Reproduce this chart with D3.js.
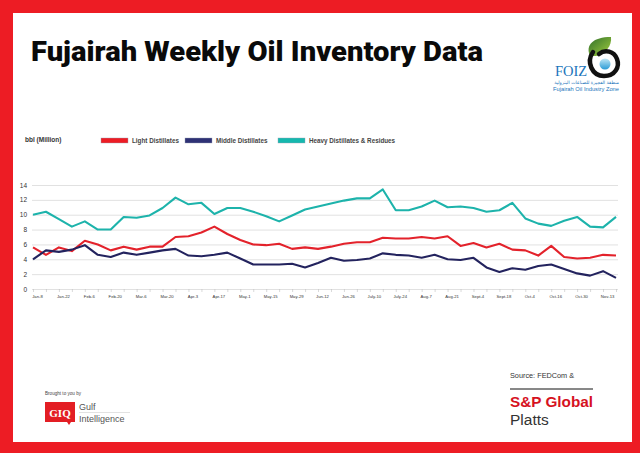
<!DOCTYPE html>
<html>
<head>
<meta charset="utf-8">
<script src="https://cdnjs.cloudflare.com/ajax/libs/d3/7.8.5/d3.min.js"></script>
<style>
  body { margin: 0; background: #ED1C24; }
  svg { display: block; }
  .grid line { stroke: #d9d9d9; stroke-width: 0.8px; }
  .grid text { font-family: "Liberation Sans", Arial, sans-serif; font-size: 6.5px; fill: #333; }
  .xaxis line { stroke: #bfbfbf; stroke-width: 0.6px; }
  .xaxis text { font-family: "Liberation Sans", Arial, sans-serif; font-size: 4.2px; fill: #333; }
</style>
</head>
<body>
<div class="chart"></div>
<script>
// weekly readings, million bbl
const lightDistillates = [5.6, 4.6, 5.6, 5.1, 6.5, 6.0, 5.2, 5.7, 5.3, 5.7,
  5.7, 7.0, 7.1, 7.6, 8.4, 7.4, 6.6, 6.0, 5.9, 6.1,
  5.4, 5.6, 5.4, 5.7, 6.1, 6.3, 6.3, 6.9, 6.8, 6.8,
  7.0, 6.8, 7.1, 5.8, 6.2, 5.6, 6.1, 5.3, 5.2, 4.5,
  5.8, 4.3, 4.1, 4.2, 4.6, 4.5];
const middleDistillates = [4.0, 5.2, 5.0, 5.3, 5.9, 4.6, 4.3, 4.9, 4.6, 4.9,
  5.2, 5.4, 4.5, 4.4, 4.6, 4.9, 4.1, 3.3, 3.3, 3.3,
  3.4, 2.9, 3.5, 4.2, 3.8, 3.9, 4.1, 4.8, 4.6, 4.5,
  4.2, 4.6, 4.0, 3.9, 4.2, 2.9, 2.3, 2.8, 2.6, 3.1,
  3.3, 2.7, 2.1, 1.8, 2.4, 1.5];
const heavyDistillates = [10.0, 10.4, 9.4, 8.4, 9.1, 8.0, 8.0, 9.7, 9.6, 9.9,
  10.9, 12.3, 11.4, 11.6, 10.1, 10.9, 10.9, 10.4, 9.8, 9.1,
  9.9, 10.7, 11.1, 11.5, 11.9, 12.2, 12.2, 13.4, 10.6, 10.6,
  11.1, 11.9, 11.0, 11.1, 10.9, 10.4, 10.6, 11.6, 9.5, 8.8,
  8.5, 9.2, 9.7, 8.4, 8.3, 9.7];

// one label every second week
const xLabels = ["Jan-8", "Jan-22", "Feb-6", "Feb-20", "Mar-6", "Mar-20", "Apr-3", "Apr-17",
  "May-1", "May-15", "May-29", "Jun-12", "Jun-26", "July-10", "July-24", "Aug-7",
  "Aug-21", "Sept-4", "Sept-18", "Oct-4", "Oct-16", "Oct-30", "Nov-13"];
const yTicks = [0, 2, 4, 6, 8, 10, 12, 14];

const seriesNames = ["Light Distillates", "Middle Distillates", "Heavy Distillates & Residues"];
const seriesColors = ["#E3222B", "#23235E", "#1DB3AB"];
const swatchColors = ["#ED1C24", "#2E3175", "#15B8AE"];

const weeks = d3.range(lightDistillates.length);

const svg = d3.select(".chart")
  .append("svg")
    .attr("width", 640)
    .attr("height", 453);

// white panel inside red frame
svg.append("rect")
  .attr("x", 13).attr("y", 13)
  .attr("width", 619).attr("height", 429)
  .style("fill", "#FFFFFF");

// title
svg.append("text")
  .attr("x", 31).attr("y", 61)
  .attr("textLength", 452)
  .attr("lengthAdjust", "spacingAndGlyphs")
  .style("font-family", "Roboto, 'Liberation Sans', sans-serif")
  .style("font-size", "27px")
  .style("font-weight", "900")
  .style("fill", "#0a0a0a")
  .text("Fujairah Weekly Oil Inventory Data");

//FOIZ logo
const logo = svg.append("g");
const leaf = svg.append("defs").append("linearGradient")
  .attr("id", "leaf").attr("x1", "0%").attr("y1", "0%").attr("x2", "100%").attr("y2", "100%");
leaf.append("stop").attr("offset", "0%").style("stop-color", "#2F6E2A");
leaf.append("stop").attr("offset", "100%").style("stop-color", "#A3CF3E");
const drop = svg.select("defs").append("linearGradient")
  .attr("id", "drop").attr("x1", "0%").attr("y1", "0%").attr("x2", "0%").attr("y2", "100%");
drop.append("stop").attr("offset", "0%").style("stop-color", "#BFE6F5");
drop.append("stop").attr("offset", "100%").style("stop-color", "#2A9BD6");
// green leaf
logo.append("path")
  .attr("d", "M590,56 C585,45 593,37 611,37 C612,46 606,53 596,56 Z")
  .style("fill", "url(#leaf)");
// black swirl
logo.append("path")
  .attr("d", "M593,52 C586,62 592,76 604,76 C615,76 620,67 617,59 C614,51 605,49 599,54")
  .style("fill", "none").style("stroke", "#111").style("stroke-width", 4.5)
  .style("stroke-linecap", "round");
logo.append("circle")
  .attr("cx", 605).attr("cy", 64).attr("r", 5.5)
  .style("fill", "url(#drop)");
logo.append("text")
  .attr("x", 555).attr("y", 76)
  .style("font-family", "'Liberation Serif', serif")
  .style("font-size", "14.5px")
  .style("fill", "#1B75BB")
  .text("FOIZ");
logo.append("text")
  .attr("x", 619).attr("y", 84)
  .attr("text-anchor", "end")
  .style("font-family", "'DejaVu Sans', sans-serif")
  .style("font-size", "4.6px")
  .style("fill", "#1B75BB")
  .text("منطقة الفجيرة للصناعات البترولية");
logo.append("text")
  .attr("x", 553).attr("y", 91)
  .attr("textLength", 66)
  .attr("lengthAdjust", "spacingAndGlyphs")
  .style("font-family", "'Liberation Sans', sans-serif")
  .style("font-size", "5.5px")
  .style("fill", "#1B75BB")
  .text("Fujairah Oil Industry Zone");

// unit label
svg.append("text")
  .attr("x", 25).attr("y", 142)
  .style("font-family", "'Liberation Sans', sans-serif")
  .style("font-size", "6.5px")
  .style("font-weight", "700")
  .style("fill", "#333")
  .text("bbl (Million)");

// legend
const legendX = [101, 185, 278];
const legend = svg.selectAll(".legend")
  .data(seriesNames)
  .enter().append("g")
  .attr("class", "legend")
  .attr("transform", (d, i) => `translate(${legendX[i]}, 138)`);
legend.append("rect")
  .attr("width", 27).attr("height", 5)
  .style("fill", (d, i) => swatchColors[i])
  .style("stroke", "#9aa0b5")
  .style("stroke-width", 0.4);
legend.append("text")
  .attr("x", 31).attr("y", 5)
  .style("font-family", "'Liberation Sans', sans-serif")
  .style("font-size", "6.3px")
  .style("font-weight", "700")
  .style("fill", "#444")
  .text(d => d);

// scales
const xScale = d3.scalePoint()
  .domain(weeks)
  .range([33, 616]);
const yScale = d3.scaleLinear()
  .domain([0, 14])
  .range([289, 185]);

// gridlines + y labels
const yAxis = svg.append("g")
  .attr("class", "grid")
  .attr("transform", "translate(32,0)")
  .call(d3.axisLeft(yScale).tickValues(yTicks).tickSize(-586).tickPadding(5));
yAxis.select(".domain").remove();

// x axis ticks and labels
const xAxis = svg.append("g")
  .attr("class", "xaxis")
  .attr("transform", "translate(0,289)")
  .call(d3.axisBottom(xScale)
    .tickSize(3)
    .tickPadding(3)
    .tickFormat(i => i % 2 === 0 ? xLabels[i / 2] : ""));
xAxis.select(".domain").remove();
xAxis.selectAll(".tick text").attr("dx", "4px");

// lines
const line = d3.line()
  .x((d, i) => xScale(weeks[i]))
  .y(d => yScale(d));

svg.selectAll(".series")
  .data([lightDistillates, middleDistillates, heavyDistillates])
  .enter().append("path")
  .attr("class", "series")
  .attr("d", d => line(d))
  .style("fill", "none")
  .style("stroke", (d, i) => seriesColors[i])
  .style("stroke-width", 2.1)
  .style("stroke-linejoin", "round");

// footer: brought to you by
svg.append("text")
  .attr("x", 45).attr("y", 395)
  .style("font-family", "'Liberation Sans', sans-serif")
  .style("font-size", "4.6px")
  .style("fill", "#444")
  .text("Brought to you by");
svg.append("rect")
  .attr("x", 45).attr("y", 402)
  .attr("width", 30).attr("height", 20)
  .style("fill", "#E31E24");
svg.append("path")
  .attr("d", "M67,422 L69,425 L71,422 Z")
  .style("fill", "#E31E24");
svg.append("text")
  .attr("x", 60).attr("y", 417)
  .attr("text-anchor", "middle")
  .style("font-family", "'Liberation Serif', serif")
  .style("font-size", "11px")
  .style("font-weight", "700")
  .style("fill", "#FFFFFF")
  .text("GIQ");
svg.append("text")
  .attr("x", 79).attr("y", 410)
  .style("font-family", "'Liberation Sans', sans-serif")
  .style("font-size", "9px")
  .style("fill", "#555")
  .text("Gulf");
svg.append("line")
  .attr("x1", 79).attr("x2", 130)
  .attr("y1", 412.5).attr("y2", 412.5)
  .style("stroke", "#cfcfcf").style("stroke-width", 0.6);
svg.append("text")
  .attr("x", 79).attr("y", 422)
  .style("font-family", "'Liberation Sans', sans-serif")
  .style("font-size", "9px")
  .style("fill", "#555")
  .text("Intelligence");

// footer: source
svg.append("text")
  .attr("x", 510).attr("y", 378)
  .style("font-family", "'Liberation Sans', sans-serif")
  .style("font-size", "7.3px")
  .style("fill", "#333")
  .text("Source: FEDCom &");
svg.append("line")
  .attr("x1", 510).attr("x2", 593)
  .attr("y1", 389).attr("y2", 389)
  .style("stroke", "#111").style("stroke-width", 1);
svg.append("text")
  .attr("x", 510).attr("y", 407)
  .attr("textLength", 83)
  .attr("lengthAdjust", "spacingAndGlyphs")
  .style("font-family", "'Liberation Sans', sans-serif")
  .style("font-size", "15.5px")
  .style("font-weight", "700")
  .style("fill", "#D6121F")
  .text("S&P Global");
svg.append("text")
  .attr("x", 510).attr("y", 425)
  .style("font-family", "'Liberation Sans', sans-serif")
  .style("font-size", "15.5px")
  .style("fill", "#333")
  .text("Platts");
</script>
</body>
</html>
